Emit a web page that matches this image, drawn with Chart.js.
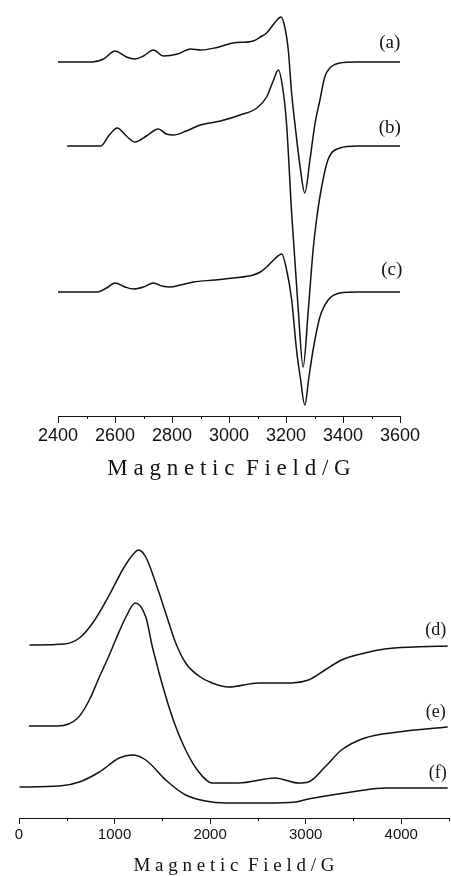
<!DOCTYPE html>
<html>
<head>
<meta charset="utf-8">
<script src="https://cdn.jsdelivr.net/npm/chart.js@4.4.1/dist/chart.umd.min.js"></script>
<style>
  body { margin: 0; background: #fff; }
  #wrap { position: relative; width: 451px; height: 876px; }
  canvas { position: absolute; left: 0; }
  #topChart { top: 0; }
  #bottomChart { top: 480px; }
</style>
</head>
<body>
<div id="wrap">
  <canvas id="topChart" width="451" height="480"></canvas>
  <canvas id="bottomChart" width="451" height="396"></canvas>
</div>
<script>
// top panel, spectra (a)-(c): field in G, intensity in arbitrary units
const fieldA = [2400, 2520, 2560, 2600, 2640, 2670, 2700, 2735, 2770, 2820, 2865, 2900, 2950, 3015, 3085, 3110, 3132, 3160, 3182, 3195, 3208, 3220, 3233, 3250, 3266, 3284, 3301, 3319, 3336, 3354, 3389, 3450, 3600];
const intensityA = [0, 0, 3, 11, 5, 3, 6, 12, 6, 8, 13, 12, 14, 19, 21, 25, 29, 39, 45, 36, 12, -32, -66, -106, -131, -98, -63, -38, -15, -6, -1, 0, 0];

const fieldB = [2432, 2550, 2580, 2608, 2640, 2670, 2710, 2752, 2780, 2805, 2850, 2899, 2970, 3039, 3098, 3132, 3155, 3173, 3190, 3202, 3220, 3243, 3260, 3278, 3295, 3307, 3325, 3347, 3389, 3450, 3600];
const intensityB = [0, 0, 11, 18, 10, 4, 10, 17, 12, 11, 15, 21, 25, 31, 38, 49, 65, 76, 55, 22, -68, -164, -221, -165, -104, -74, -41, -14, -2, 0, 0];

const fieldC = [2400, 2540, 2570, 2600, 2635, 2665, 2700, 2735, 2765, 2793, 2830, 2875, 2950, 3015, 3085, 3110, 3132, 3160, 3185, 3200, 3220, 3237, 3250, 3266, 3280, 3295, 3319, 3348, 3389, 3450, 3600];
const intensityC = [0, 0, 4, 9, 5, 3, 5, 9, 6, 5, 7, 10, 12, 14, 17, 20, 25, 33, 38, 25, -8, -58, -85, -113, -86, -58, -25, -8, -1, 0, 0];

const offsetsTop = [354, 270, 124];   // vertical stacking of (a), (b), (c)
const tagsTop = ['(a)', '(b)', '(c)'];
const tagFieldTop = [3564, 3564, 3571];
const tagLiftTop = [19, 18, 22];

// bottom panel, spectra (d)-(f)
const fieldD = [110, 476, 632, 771, 945, 1083, 1188, 1250, 1327, 1431, 1535, 1640, 1744, 1882, 2021, 2195, 2507, 2854, 3028, 3202, 3375, 3619, 3827, 4140, 4486];
const intensityD = [0, 1, 7, 22, 50, 75, 90, 95, 88, 62, 32, 2, -18, -31, -38, -42, -38, -38, -35, -25, -15, -8, -4, -2, -1];

const fieldE = [104, 406, 615, 736, 841, 945, 1015, 1119, 1216, 1327, 1396, 1431, 1466, 1604, 1744, 1882, 2021, 2299, 2681, 2924, 3028, 3202, 3375, 3619, 3966, 4486];
const intensityE = [0, 0, 8, 26, 49, 71, 87, 109, 123, 109, 79, 66, 53, 9, -24, -46, -57, -57, -52, -57, -56, -41, -24, -12, -6, -1];

const fieldF = [7, 424, 632, 841, 1049, 1188, 1327, 1535, 1744, 1952, 2160, 2577, 2890, 3028, 3271, 3549, 3827, 4486];
const intensityF = [0, 1, 5, 15, 29, 32, 27, 7, -8, -14, -16, -16, -15, -12, -8, -4, -1, -1];

const offsetsBottom = [173, 92, 31];
const tagsBottom = ['(d)', '(e)', '(f)'];
const tagFieldBottom = [4361, 4361, 4382];
const tagLiftBottom = [15, 14, 14];

const axisTitle = 'M a g n e t i c  F i e l d / G';

document.addEventListener("DOMContentLoaded", function() {

    function buildDatasets(fields, intensities, offsets) {
        return fields.map((f, k) => ({
            data: f.map((g, i) => ({x: g, y: intensities[k][i] + offsets[k]})),
            borderColor: '#111',
            borderWidth: 1.5,
            pointRadius: 0,
            fill: false,
            cubicInterpolationMode: 'monotone'
        }));
    }

    createChart('topChart', {
        datasets: buildDatasets([fieldA, fieldB, fieldC], [intensityA, intensityB, intensityC], offsetsTop),
        offsets: offsetsTop, tags: tagsTop, tagField: tagFieldTop, tagLift: tagLiftTop,
        xMin: 2400, xMax: 3600, step: 100, labelStep: 200, yMax: 410,
        padding: {left: 58, right: 51, top: 6, bottom: 0},
        axisHeight: 64, majorLen: 7, minorLen: 3,
        tickFont: 18, titleFont: 23, tagFont: 19
    });

    createChart('bottomChart', {
        datasets: buildDatasets([fieldD, fieldE, fieldF], [intensityD, intensityE, intensityF], offsetsBottom),
        offsets: offsetsBottom, tags: tagsBottom, tagField: tagFieldBottom, tagLift: tagLiftBottom,
        xMin: 0, xMax: 4500, step: 500, labelStep: 1000, yMax: 332,
        padding: {left: 19, right: 0, top: 6, bottom: 0},
        axisHeight: 58, majorLen: 6, minorLen: 3,
        tickFont: 15, titleFont: 19, tagFont: 18
    });

    function createChart(canvasId, cfg) {
        const ctx = document.getElementById(canvasId).getContext('2d');

        // minor ticks are shorter than major ones, and the (a)..(f) tags
        const extrasPlugin = {
            id: 'extras',
            afterDraw: (chart) => {
                const c = chart.ctx;
                const xs = chart.scales.x;
                const ys = chart.scales.y;
                c.save();
                c.strokeStyle = '#111';
                c.lineWidth = 1;
                xs.ticks.forEach((t, i) => {
                    if (t.value % cfg.labelStep === 0) return;
                    const px = Math.round(xs.getPixelForTick(i)) + 0.5;
                    c.beginPath();
                    c.moveTo(px, xs.top);
                    c.lineTo(px, xs.top + cfg.minorLen);
                    c.stroke();
                });
                c.font = cfg.tagFont + 'px "Liberation Serif"';
                c.fillStyle = '#111';
                c.textAlign = 'center';
                c.textBaseline = 'middle';
                cfg.tags.forEach((t, k) => {
                    c.fillText(t, xs.getPixelForValue(cfg.tagField[k]),
                        ys.getPixelForValue(cfg.offsets[k] + cfg.tagLift[k]));
                });
                c.restore();
            }
        };

        new Chart(ctx, {
            type: 'line',
            plugins: [extrasPlugin],
            data: {datasets: cfg.datasets},
            options: {
                responsive: false,
                animation: false,
                layout: {padding: cfg.padding},
                plugins: {
                    legend: {display: false},
                    tooltip: {enabled: false}
                },
                scales: {
                    x: {
                        type: 'linear',
                        min: cfg.xMin,
                        max: cfg.xMax,
                        afterFit: (scale) => { scale.height = cfg.axisHeight; },
                        border: {display: true, color: '#111', width: 1},
                        grid: {
                            drawOnChartArea: false,
                            drawTicks: true,
                            tickLength: cfg.majorLen,
                            tickWidth: 1,
                            tickColor: (c) => (c.tick && c.tick.value % cfg.labelStep === 0) ? '#111' : 'rgba(0,0,0,0)'
                        },
                        ticks: {
                            stepSize: cfg.step,
                            autoSkip: false,
                            maxRotation: 0,
                            padding: 2,
                            color: '#111',
                            font: {family: '"Liberation Sans", Arial, sans-serif', size: cfg.tickFont},
                            callback: (v) => v % cfg.labelStep === 0 ? String(v) : ''
                        },
                        title: {
                            display: true,
                            text: axisTitle,
                            color: '#111',
                            font: {family: '"Liberation Serif", serif', size: cfg.titleFont, lineHeight: 1},
                            padding: {top: 0, bottom: 0}
                        }
                    },
                    y: {display: false, min: 0, max: cfg.yMax}
                }
            }
        });
    }
});
</script>
</body>
</html>
